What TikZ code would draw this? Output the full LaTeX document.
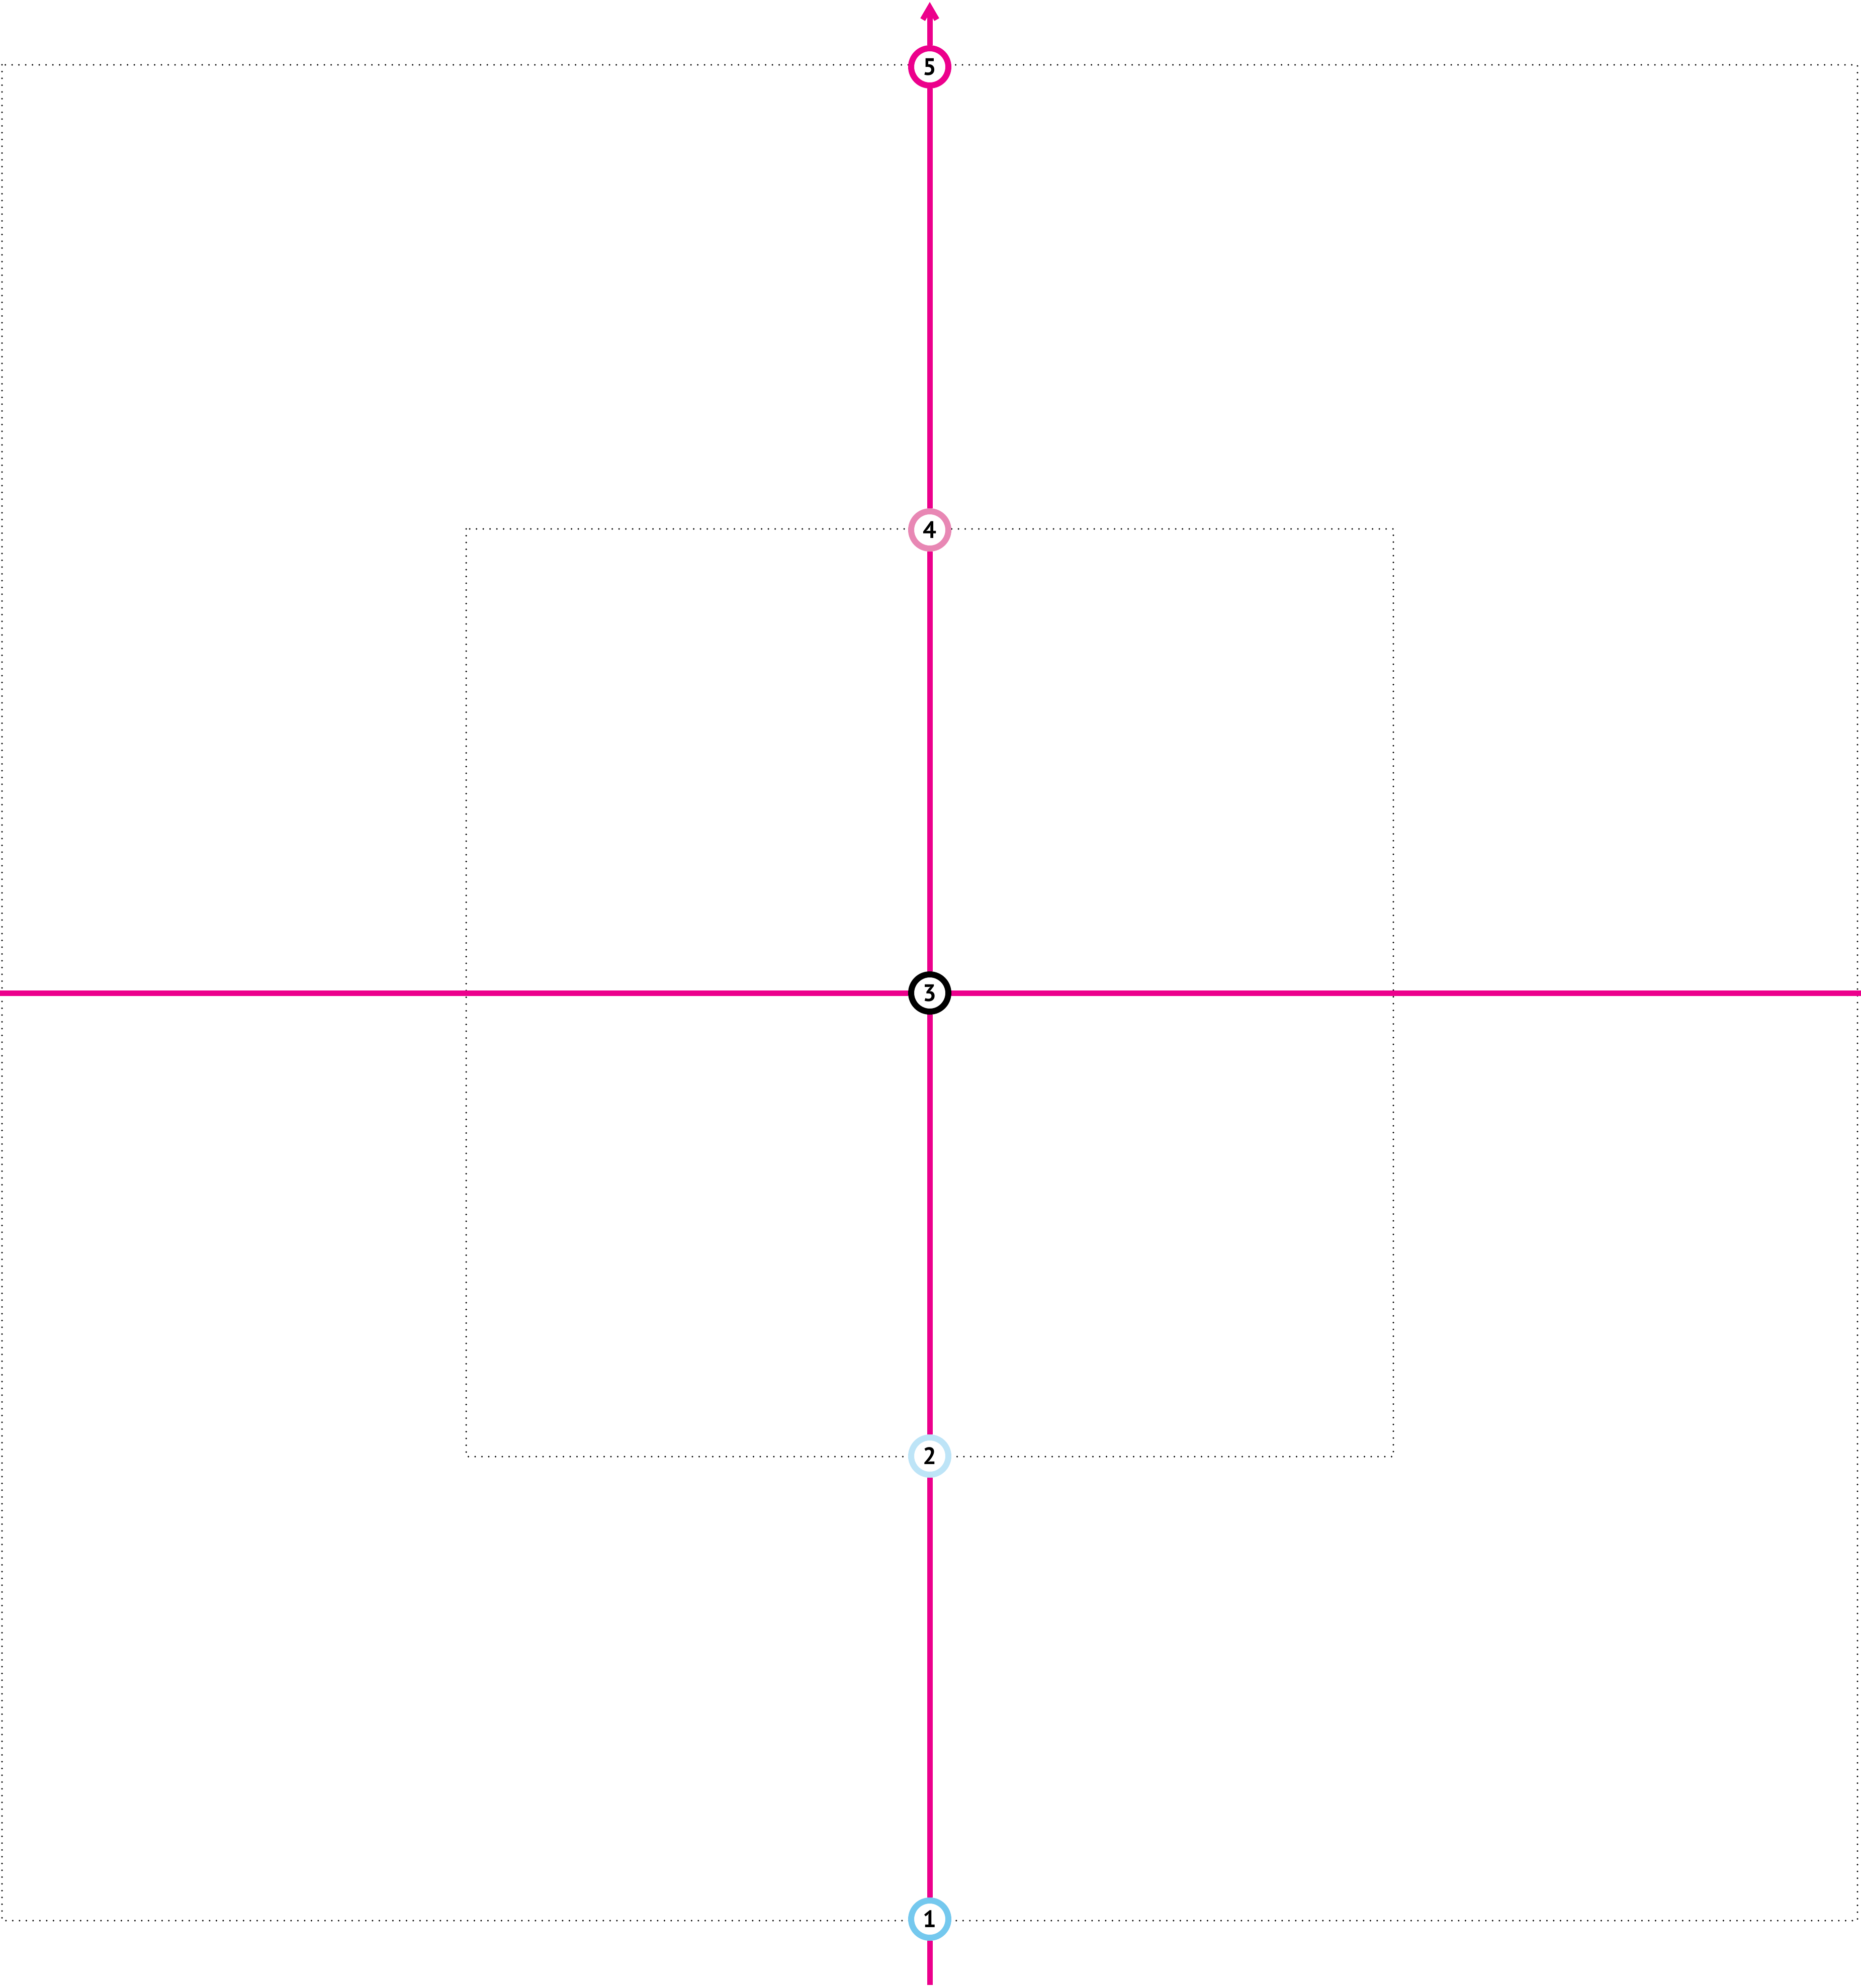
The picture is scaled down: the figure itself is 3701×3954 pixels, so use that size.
\documentclass[tikz,border=0pt]{standalone}
\usepackage{fontspec}
\setsansfont{PT Sans}
\usetikzlibrary{arrows.meta, positioning, backgrounds}
\definecolor{guidemagenta}{HTML}{EC008C}
\definecolor{stoppink}{HTML}{E887B4}
\definecolor{stopsky}{HTML}{BDE4F7}
\definecolor{stopblue}{HTML}{74C8EE}

\begin{document}
\begin{tikzpicture}[
  x=0.1mm, y=-0.1mm,
  node distance=9.21cm, on grid,
  stop/.style={circle, draw, line width=1.2mm, fill=white, minimum size=7.4mm, inner sep=0pt, font=\sffamily\bfseries\fontsize{13.5}{13.5}\selectfont},
  track/.style={guidemagenta, line width=1.1mm},
  guide/.style={line width=0.35mm, line cap=round, dash pattern=on 0pt off 1.35mm, black}
]
\useasboundingbox (0,0) rectangle (3701,3954);
\node[stop, draw=black] (s3) at (1849,1975) {3};
\node[stop, draw=stoppink, above=of s3] (s4) {4};
\node[stop, draw=guidemagenta, above=of s4] (s5) {5};
\node[stop, draw=stopsky, below=of s3] (s2) {2};
\node[stop, draw=stopblue, below=of s2] (s1) {1};
\coordinate (bottom) at (1849,3948);
\coordinate (top) at (1849,4);
\coordinate (west) at (0,1975);
\coordinate (east) at (3701,1975);
\begin{scope}[on background layer]
\draw[guide] (4,129) rectangle (3694,3820);
\draw[guide] (927,1052) rectangle (2771,2897);
\draw[track] (bottom) -- (s1) -- (s2) -- (s3) -- (s4) -- (s5);
\draw[track, -{Straight Barb[length=2.4mm, width=2.8mm]}] (s5) -- (top);
\draw[track] (west) -- (s3) -- (east);
\end{scope}
\end{tikzpicture}
\end{document}
